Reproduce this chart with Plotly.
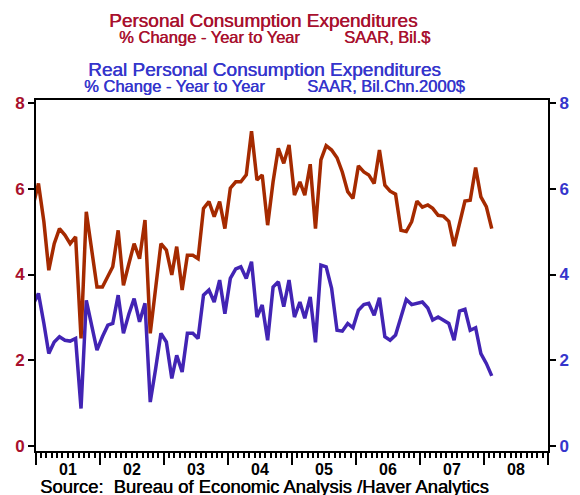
import pandas as pd
import plotly.graph_objects as go

# Monthly, Dec 2000 .. Feb 2008 (Dec 2000 is clipped by the axis range)
months = pd.date_range("2000-12-01", periods=87, freq="MS") + pd.Timedelta(days=14)

pce_nominal = [5.60,
    6.12, 5.23, 4.10, 4.72, 5.07, 4.92, 4.72, 4.88, 2.51, 5.46, 4.61, 3.71,
    3.71, 3.95, 4.18, 5.03, 3.75, 4.25, 4.72, 4.37, 5.27, 2.63, 3.68, 4.72,
    4.57, 3.99, 4.65, 3.64, 4.45, 4.45, 4.37, 5.54, 5.70, 5.35, 5.70, 5.07,
    6.01, 6.16, 6.16, 6.32, 7.34, 6.20, 6.32, 5.15, 6.16, 6.94, 6.59, 7.02,
    5.85, 6.16, 5.85, 6.57, 5.07, 6.67, 7.00, 6.90, 6.72, 6.39, 5.93, 5.77,
    6.53, 6.39, 6.32, 6.12, 6.90, 6.08, 5.94, 5.87, 5.03, 5.00, 5.23, 5.71,
    5.57, 5.62, 5.54, 5.38, 5.36, 5.24, 4.66, 5.15, 5.71, 5.73, 6.49, 5.81,
    5.58, 5.07]

pce_real = [3.30,
    3.56, 2.86, 2.16, 2.43, 2.55, 2.47, 2.45, 2.51, 0.88, 3.40, 2.82, 2.24,
    2.55, 2.82, 2.86, 3.52, 2.63, 3.08, 3.44, 2.90, 3.33, 1.03, 1.81, 2.63,
    2.43, 1.58, 2.12, 1.73, 2.63, 2.63, 2.51, 3.52, 3.64, 3.36, 3.87, 3.09,
    3.91, 4.13, 4.18, 3.91, 4.30, 3.01, 3.29, 2.47, 3.71, 3.83, 3.25, 3.87,
    3.01, 3.36, 2.98, 3.48, 2.42, 4.22, 4.18, 3.68, 2.70, 2.68, 2.86, 2.76,
    3.17, 3.30, 3.33, 3.05, 3.46, 2.55, 2.47, 2.59, 3.01, 3.42, 3.30, 3.33,
    3.36, 3.22, 2.94, 3.01, 2.94, 2.86, 2.47, 3.15, 3.19, 2.70, 2.76, 2.16,
    1.93, 1.64]

y_ticks = [0, 2, 4, 6, 8]

RED_LINE = "#A52A00"
BLUE_LINE = "#4224B4"
RED_TXT = "#A8102E"
BLUE_TXT = "#3535CC"
FONT = "Liberation Sans, Arial, sans-serif"

fig = go.Figure()
fig.add_trace(go.Scatter(x=months, y=pce_real, mode="lines",
                         line=dict(color=BLUE_LINE, width=3.5), yaxis="y",
                         showlegend=False, hoverinfo="skip"))
fig.add_trace(go.Scatter(x=months, y=pce_nominal, mode="lines",
                         line=dict(color=RED_LINE, width=3.5), yaxis="y",
                         showlegend=False, hoverinfo="skip"))
# invisible trace to anchor the right-hand axis
fig.add_trace(go.Scatter(x=months, y=pce_real, mode="lines", opacity=0,
                         yaxis="y2", showlegend=False, hoverinfo="skip"))

L, R, T, B = 36, 32, 100, 44
W, H = 580, 495
pw, ph = W - L - R, H - T - B

def px(x):
    return (x - L) / pw

def py(y):
    return (H - B - y) / ph

ann = []
def add(text, x, y, size, color, anchor="center"):
    ann.append(dict(text=text, x=px(x), y=py(y), xref="paper", yref="paper",
                    xanchor=anchor, yanchor="middle", showarrow=False,
                    font=dict(family=FONT, size=size, color=color,
                              shadow=f"0.5px 0 0 {color}")))

add("Personal Consumption Expenditures", 263, 20.5, 19, RED_TXT)
add("% Change - Year to Year", 209, 37.5, 16.5, RED_TXT)
add("SAAR, Bil.$", 386.5, 37.5, 16.5, RED_TXT)
add("Real Personal Consumption Expenditures", 264, 69, 19, BLUE_TXT)
add("% Change - Year to Year", 174, 85.5, 16.5, BLUE_TXT)
add("SAAR, Bil.Chn.2000$", 386, 85.5, 16.5, BLUE_TXT)
add("Source:  Bureau of Economic Analysis /Haver Analytics", 37.5, 486.5, 18.4, "black", anchor="left")

fig.update_layout(
    width=W, height=H,
    margin=dict(l=L, r=R, t=T, b=B, pad=0),
    paper_bgcolor="white", plot_bgcolor="white",
    annotations=ann,
    xaxis=dict(type="date", range=["2001-01-01", "2009-01-01"],
               tick0="2001-01-01", dtick="M12", tickformat="%y",
               ticklabelmode="period", ticks="outside", ticklen=12,
               tickwidth=2, tickcolor="black", ticklabelstandoff=-9,
               minor=dict(dtick="M1", ticks="outside", ticklen=5,
                          tickwidth=1.5, tickcolor="black"),
               showline=True, linewidth=2, linecolor="black", mirror=True,
               showgrid=False, zeroline=False, automargin=False,
               tickfont=dict(family=FONT, size=16, color="black", weight="bold")),
    yaxis=dict(range=[-0.11, 8.065], tickvals=y_ticks, ticks="outside",
               ticklen=6, tickwidth=2, tickcolor="black",
               showline=True, linewidth=2, linecolor="black",
               showgrid=False, zeroline=False, automargin=False,
               tickfont=dict(family=FONT, size=17, color=RED_TXT, weight="bold")),
    yaxis2=dict(range=[-0.11, 8.065], tickvals=y_ticks, ticks="outside",
                overlaying="y", side="right",
                ticklen=6, tickwidth=2, tickcolor="black",
                showline=True, linewidth=2, linecolor="black",
                showgrid=False, zeroline=False, automargin=False,
                tickfont=dict(family=FONT, size=17, color=BLUE_TXT, weight="bold")),
)

fig.write_html("out.html", config={"displayModeBar": False},
               post_script="document.body.style.margin='0px';document.body.style.padding='0px';")
